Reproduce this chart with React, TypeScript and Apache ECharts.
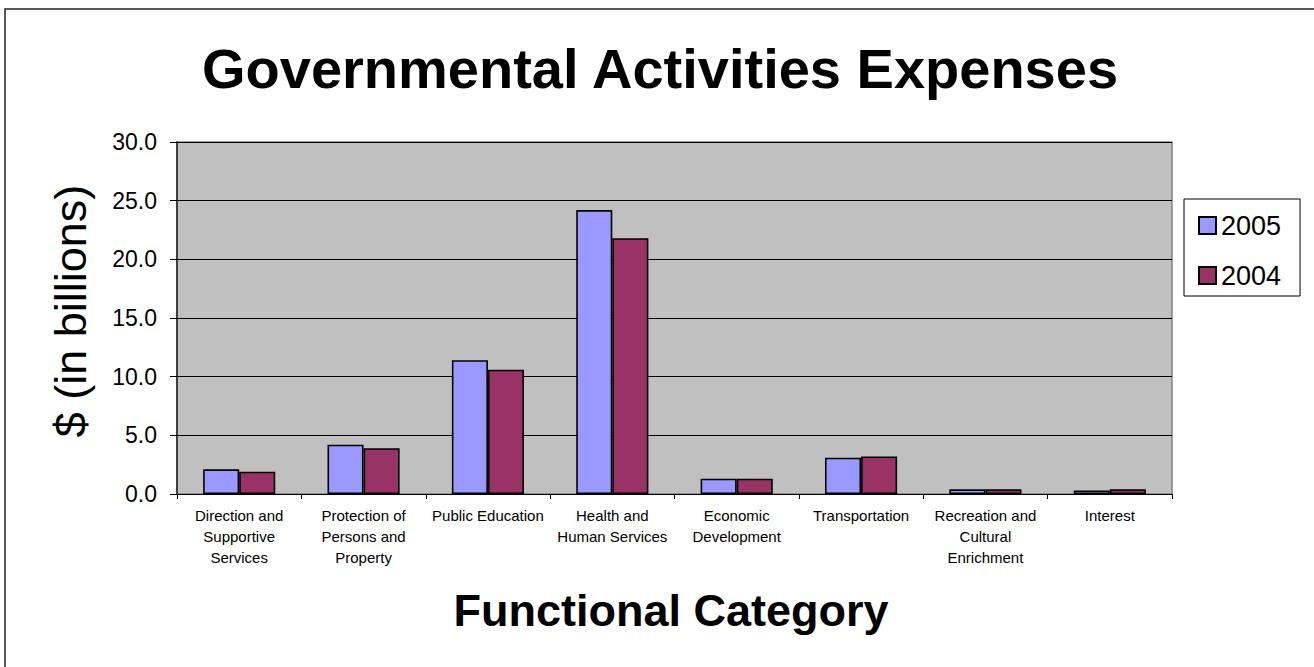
import React, { useEffect, useRef } from "react";
import * as echarts from "echarts";

const categories = [
  "Direction and\nSupportive\nServices",
  "Protection of\nPersons and\nProperty",
  "Public Education",
  "Health and\nHuman Services",
  "Economic\nDevelopment",
  "Transportation",
  "Recreation and\nCultural\nEnrichment",
  "Interest",
];
const seriesNames = ["2005", "2004"];
const values2005 = [2.1, 4.2, 11.4, 24.2, 1.3, 3.1, 0.4, 0.3];
const values2004 = [1.9, 3.9, 10.6, 21.8, 1.3, 3.2, 0.4, 0.4];
const yMin = 0;
const yMax = 30;
const yInterval = 5;

const titleText = "Governmental Activities Expenses";
const xTitle = "Functional Category";
const yTitle = "$ (in billions)";

const FONT = '"Liberation Sans", Arial, sans-serif';

export default function App() {
  const ref = useRef<HTMLDivElement>(null);
  useEffect(() => {
    if (!ref.current) return;
    const chart = echarts.init(ref.current, undefined, { renderer: "svg" });
    chart.setOption({
      animation: false,
      backgroundColor: "#ffffff",
      textStyle: { fontFamily: FONT },
      grid: {
        left: 177,
        top: 142,
        right: 142,
        bottom: 173,
        show: true,
        backgroundColor: "#C0C0C0",
        borderColor: "#808080",
        borderWidth: 1.5,
      },
      legend: {
        orient: "vertical",
        left: 1184,
        top: 199,
        padding: [13, 19, 7, 14],
        itemGap: 23,
        itemWidth: 17,
        itemHeight: 17,
        icon: "rect",
        borderColor: "#000",
        borderWidth: 1,
        backgroundColor: "#fff",
        borderRadius: 0,
        textStyle: { fontSize: 27, color: "#000", fontFamily: FONT },
        data: seriesNames,
      },
      xAxis: {
        type: "category",
        data: categories,
        axisLine: { lineStyle: { color: "#000", width: 1 } },
        axisTick: { show: true, length: 5, lineStyle: { color: "#000" } },
        axisLabel: {
          interval: 0,
          color: "#000",
          fontSize: 15,
          lineHeight: 21,
          margin: 11,
          fontFamily: FONT,
        },
        splitLine: { show: false },
      },
      yAxis: {
        type: "value",
        min: yMin,
        max: yMax,
        interval: yInterval,
        axisLine: { show: true, lineStyle: { color: "#222", width: 1.5 } },
        axisTick: { show: true, length: 7, lineStyle: { color: "#000" } },
        axisLabel: {
          color: "#000",
          fontSize: 23,
          margin: 20,
          fontFamily: FONT,
          formatter: (v: number) => v.toFixed(1),
        },
        splitLine: { show: true, lineStyle: { color: "#000", width: 1 } },
      },
      series: [
        {
          name: seriesNames[0],
          type: "bar",
          data: values2005,
          barGap: "0%",
          barCategoryGap: "42%",
          itemStyle: { color: "#9999FF", borderColor: "#000", borderWidth: 1.6 },
        },
        {
          name: seriesNames[1],
          type: "bar",
          data: values2004,
          barGap: "0%",
          barCategoryGap: "42%",
          itemStyle: { color: "#993366", borderColor: "#000", borderWidth: 1.6 },
        },
      ],
      graphic: [
        {
          type: "rect",
          silent: true,
          shape: { x: 5, y: 9, width: 1400, height: 800 },
          style: { fill: "none", stroke: "#222", lineWidth: 1.5 },
        },
        {
          type: "text",
          x: 660,
          y: 68,
          style: {
            text: titleText,
            fontSize: 56,
            fontWeight: "bold",
            fontFamily: FONT,
            fill: "#000",
            align: "center",
            verticalAlign: "middle",
          },
        },
        {
          type: "text",
          x: 671,
          y: 610,
          style: {
            text: xTitle,
            fontSize: 45,
            fontWeight: "bold",
            fontFamily: FONT,
            fill: "#000",
            align: "center",
            verticalAlign: "middle",
          },
        },
        {
          type: "text",
          x: 70,
          y: 311,
          rotation: Math.PI / 2,
          style: {
            text: yTitle,
            fontSize: 45,
            fontFamily: FONT,
            fill: "#000",
            align: "center",
            verticalAlign: "middle",
          },
        },
      ],
    });
    return () => chart.dispose();
  }, []);
  return (
    <div
      ref={ref}
      style={{ position: "fixed", left: 0, top: 0, width: 1314, height: 667 }}
    />
  );
}
